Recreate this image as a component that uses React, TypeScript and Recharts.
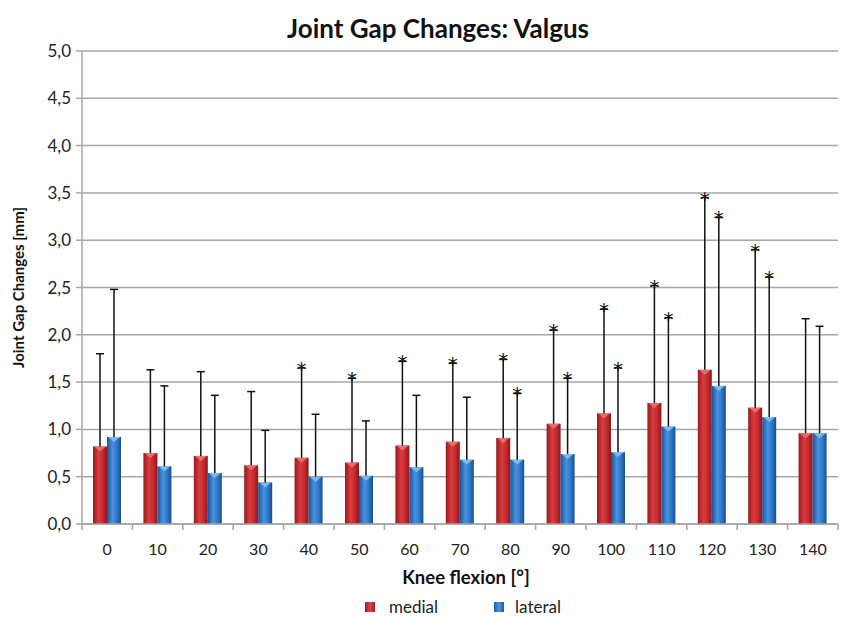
import {
  BarChart,
  Bar,
  XAxis,
  YAxis,
  CartesianGrid,
  Legend,
} from "recharts";

const angles = [0, 10, 20, 30, 40, 50, 60, 70, 80, 90, 100, 110, 120, 130, 140];
const medial = [0.82, 0.75, 0.72, 0.62, 0.7, 0.65, 0.83, 0.87, 0.91, 1.06, 1.17, 1.28, 1.63, 1.23, 0.96];
const lateral = [0.92, 0.61, 0.54, 0.44, 0.5, 0.51, 0.6, 0.68, 0.68, 0.74, 0.76, 1.03, 1.46, 1.13, 0.96];
// upper end of the error bar (mean + SD)
const medialUpper = [1.8, 1.63, 1.61, 1.4, 1.65, 1.54, 1.72, 1.7, 1.74, 2.05, 2.27, 2.52, 3.45, 2.9, 2.17];
const lateralUpper = [2.48, 1.46, 1.36, 0.99, 1.16, 1.09, 1.36, 1.34, 1.38, 1.54, 1.65, 2.18, 3.24, 2.61, 2.09];
// significance marks (*)
const medialSig = [0, 0, 0, 0, 1, 1, 1, 1, 1, 1, 1, 1, 1, 1, 0];
const lateralSig = [0, 0, 0, 0, 0, 0, 0, 0, 1, 1, 1, 1, 1, 1, 0];

const yTicks = [0, 0.5, 1, 1.5, 2, 2.5, 3, 3.5, 4, 4.5, 5];

const data = angles.map((a, i) => ({
  angle: a,
  medial: medial[i],
  lateral: lateral[i],
  medialUpper: medialUpper[i],
  lateralUpper: lateralUpper[i],
  medialSig: medialSig[i],
  lateralSig: lateralSig[i],
}));

const FONT = "Lato, 'Open Sans', sans-serif";
const GRAY = "#a6a6a6";
const TICK_MARGIN = 20;

const makeShape = (key: string, grad: string, light: string) => (props: any) => {
  const { x, y, width, height, payload } = props;
  const v = payload[key];
  const base = y + height;
  const ppu = height / v;
  const yErr = base - payload[key + "Upper"] * ppu;
  const cx = x + width / 2;
  return (
    <g>
      <rect x={x} y={y} width={width} height={height} fill={`url(#${grad})`} />
      <path
        d={`M${x + 1},${y} L${x + width - 1},${y} L${cx},${y + 5} Z`}
        fill={light}
        opacity={0.8}
      />
      <line x1={cx} y1={y} x2={cx} y2={yErr} stroke="#111" strokeWidth={1.5} />
      <line x1={cx - 4} y1={yErr} x2={cx + 4} y2={yErr} stroke="#111" strokeWidth={1.5} />
      {payload[key + "Sig"] ? (
        <text
          x={cx}
          y={yErr + 8}
          textAnchor="middle"
          fontSize={20}
          fontFamily="'DejaVu Sans', sans-serif"
          fill="#111"
        >
          *
        </text>
      ) : null}
    </g>
  );
};

// category label plus tick marks on the category boundaries
const CatTick = (props: any) => {
  const { x, y, payload, index, visibleTicksCount, width } = props;
  const half = payload.offset || width / visibleTicksCount / 2;
  const ay = y - TICK_MARGIN;
  return (
    <g>
      <line x1={x - half} y1={ay} x2={x - half} y2={ay + 6} stroke={GRAY} strokeWidth={1.5} />
      {index === visibleTicksCount - 1 ? (
        <line x1={x + half} y1={ay} x2={x + half} y2={ay + 6} stroke={GRAY} strokeWidth={1.5} />
      ) : null}
      <text x={x} y={y} dy="0.71em" textAnchor="middle" fill="#222" fontSize={16} fontFamily={FONT}>
        {payload.value}
      </text>
    </g>
  );
};

const LegendBox = () => (
  <div
    style={{
      display: "flex",
      justifyContent: "center",
      alignItems: "center",
      gap: 56,
      fontFamily: FONT,
      fontSize: 17,
      color: "#222",
      paddingLeft: 88,
      paddingTop: 6,
    }}
  >
    <span style={{ display: "flex", alignItems: "center", gap: 14 }}>
      <span style={{ width: 10, height: 10, background: "linear-gradient(90deg,#9e1c20,#e04446,#9e1c20)" }} />
      medial
    </span>
    <span style={{ display: "flex", alignItems: "center", gap: 11 }}>
      <span style={{ width: 10, height: 10, background: "linear-gradient(90deg,#1c5ba2,#4d96e2,#1c5ba2)" }} />
      lateral
    </span>
  </div>
);

const App = () => {
  return (
    <div style={{ position: "absolute", left: 0, top: 0, width: 850, height: 619, background: "#fff" }}>
      <div
        style={{
          position: "absolute",
          top: 12,
          left: 0,
          width: 876,
          textAlign: "center",
          fontFamily: FONT,
          fontWeight: "bold",
          fontSize: 26,
          color: "#111",
        }}
      >
        Joint Gap Changes: Valgus
      </div>
      <BarChart
        width={850}
        height={619}
        data={data}
        margin={{ top: 51, right: 12, left: 0, bottom: 0 }}
        barGap={0}
        barSize={14}
      >
        <defs>
          <linearGradient id="gradRed" x1="0" y1="0" x2="1" y2="0">
            <stop offset="0%" stopColor="#961a1e" />
            <stop offset="40%" stopColor="#dc3c3e" />
            <stop offset="70%" stopColor="#c42a2e" />
            <stop offset="100%" stopColor="#8c171b" />
          </linearGradient>
          <linearGradient id="gradBlue" x1="0" y1="0" x2="1" y2="0">
            <stop offset="0%" stopColor="#1b5598" />
            <stop offset="40%" stopColor="#4a92de" />
            <stop offset="70%" stopColor="#2f78c8" />
            <stop offset="100%" stopColor="#194f8e" />
          </linearGradient>
        </defs>
        <CartesianGrid vertical={false} stroke={GRAY} strokeWidth={1.5} />
        <XAxis
          dataKey="angle"
          height={66}
          axisLine={{ stroke: GRAY, strokeWidth: 1.5 }}
          tickLine={false}
          tickSize={0}
          tickMargin={TICK_MARGIN}
          tick={<CatTick />}
          interval={0}
          label={({ viewBox }: any) => (
            <text
              x={viewBox.x + viewBox.width / 2 + 6}
              y={viewBox.y + viewBox.height - 6}
              textAnchor="middle"
              fill="#111"
              fontSize={18.5}
              fontWeight="bold"
              fontFamily={FONT}
            >
              Knee flexion [°]
            </text>
          )}
        />
        <YAxis
          width={82}
          domain={[0, 5]}
          ticks={yTicks}
          interval={0}
          tickFormatter={(v: number) => v.toFixed(1).replace(".", ",")}
          tick={{ fill: "#222", fontSize: 17, fontFamily: FONT }}
          tickSize={6}
          tickMargin={5}
          axisLine={{ stroke: GRAY, strokeWidth: 1.5 }}
          tickLine={{ stroke: GRAY, strokeWidth: 1.5 }}
          label={({ viewBox }: any) => (
            <text
              x={viewBox.x + 24}
              y={viewBox.y + viewBox.height / 2}
              transform={`rotate(-90 ${viewBox.x + 24} ${viewBox.y + viewBox.height / 2})`}
              textAnchor="middle"
              fill="#111"
              fontSize={15}
              fontWeight="bold"
              fontFamily={FONT}
            >
              Joint Gap Changes [mm]
            </text>
          )}
        />
        <Legend verticalAlign="bottom" height={29} content={() => <LegendBox />} />
        <Bar
          dataKey="medial"
          name="medial"
          fill="#c8282e"
          isAnimationActive={false}
          shape={makeShape("medial", "gradRed", "#f07a78")}
        />
        <Bar
          dataKey="lateral"
          name="lateral"
          fill="#2f7fd0"
          isAnimationActive={false}
          shape={makeShape("lateral", "gradBlue", "#8cc4f4")}
        />
      </BarChart>
    </div>
  );
};

export default App;
